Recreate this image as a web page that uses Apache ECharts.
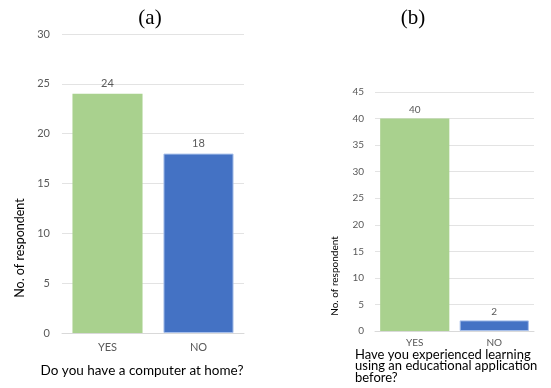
<!DOCTYPE html>
<html>
<head>
<meta charset="utf-8">
<script src="https://cdn.jsdelivr.net/npm/echarts@6/dist/echarts.min.js"></script>
<style>
  html, body { margin: 0; padding: 0; background: #fff; }
  #chart { width: 551px; height: 388px; }
</style>
</head>
<body>
<div id="chart"></div>
<script>
// Survey answers: two panels, YES / NO counts
const categories = ['YES', 'NO'];
const computerAtHome = [24, 18];          // panel (a)
const usedEduApp = [40, 2];               // panel (b)
const axisA = { min: 0, max: 30, interval: 5 };
const axisB = { min: 0, max: 45, interval: 5 };
const barColors = ['#A9D18E', '#4472C4'];
const questionB = ['Have you experienced learning', 'using an educational application', 'before?'];

const FONT = 'Lato, "Open Sans", sans-serif';
const GREY = '#595959';

function coloured(values) {
  return values.map((v, i) => ({
    value: v,
    itemStyle: {
      color: barColors[i],
      borderColor: i === 1 ? '#A7BFEA' : barColors[i],
      borderWidth: i === 1 ? 1 : 0
    }
  }));
}

function xAxisFor(gridIndex, size, margin) {
  return {
    type: 'category',
    gridIndex,
    data: categories,
    axisTick: { show: false },
    axisLine: { lineStyle: { color: '#D9D9D9' } },
    axisLabel: { color: GREY, fontFamily: FONT, fontSize: size, margin }
  };
}

function yAxisFor(gridIndex, range, size, margin) {
  return {
    type: 'value',
    gridIndex,
    min: range.min, max: range.max, interval: range.interval,
    axisLine: { show: false },
    axisTick: { show: false },
    splitLine: { lineStyle: { color: '#E3E3E3' } },
    axisLabel: { color: GREY, fontFamily: FONT, fontSize: size, margin }
  };
}

// multi-line axis title for panel (b), one text element per line
const questionLines = questionB.map((line, i) => ({
  type: 'text', x: 355, y: 355 + i * 11.3,
  style: { text: line, fill: '#000', font: '13px ' + FONT, textAlign: 'left', textVerticalAlign: 'middle' }
}));

const chart = echarts.init(document.getElementById('chart'), null, { renderer: 'canvas' });
chart.setOption({
  animation: false,
  backgroundColor: '#ffffff',
  title: [
    { text: '(a)', left: 145, top: 3, textAlign: 'center',
      textStyle: { fontFamily: '"Liberation Serif", serif', fontSize: 21, fontWeight: 'normal', color: '#000' } },
    { text: '(b)', left: 408, top: 3, textAlign: 'center',
      textStyle: { fontFamily: '"Liberation Serif", serif', fontSize: 21, fontWeight: 'normal', color: '#000' } }
  ],
  grid: [
    { left: 62, right: 307, top: 34, bottom: 55 },
    { left: 375, right: 17, top: 92, bottom: 57 }
  ],
  xAxis: [xAxisFor(0, 11, 9), xAxisFor(1, 10, 7)],
  yAxis: [yAxisFor(0, axisA, 11, 12), yAxisFor(1, axisB, 10, 11)],
  series: [
    {
      type: 'bar', xAxisIndex: 0, yAxisIndex: 0,
      data: coloured(computerAtHome),
      barCategoryGap: '23%',
      label: { show: true, position: 'top', distance: 5, color: GREY, fontFamily: FONT, fontSize: 11 }
    },
    {
      type: 'bar', xAxisIndex: 1, yAxisIndex: 1,
      data: coloured(usedEduApp),
      barCategoryGap: '13%',
      label: { show: true, position: 'top', distance: 4, color: GREY, fontFamily: FONT, fontSize: 10 }
    }
  ],
  graphic: [
    { type: 'text', x: 20, y: 248, rotation: Math.PI / 2,
      style: { text: 'No. of respondent', fill: '#000', font: '12.5px ' + FONT, textAlign: 'center', textVerticalAlign: 'middle' } },
    { type: 'text', x: 142, y: 371,
      style: { text: 'Do you have a computer at home?', fill: '#000', font: '13.5px ' + FONT, textAlign: 'center', textVerticalAlign: 'middle' } },
    { type: 'text', x: 335, y: 276, rotation: Math.PI / 2,
      style: { text: 'No. of respondent', fill: '#000', font: '10px ' + FONT, textAlign: 'center', textVerticalAlign: 'middle' } }
  ].concat(questionLines)
});
</script>
</body>
</html>
